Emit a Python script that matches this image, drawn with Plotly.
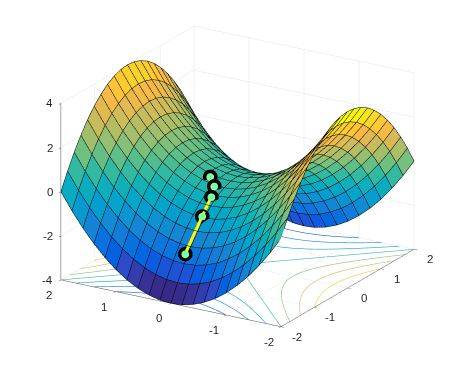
import plotly.graph_objects as go
import numpy as np

x_values = [-2.0,-1.8,-1.6,-1.4,-1.2,-1.0,-0.8,-0.6,-0.4,-0.2,0.0,0.2,0.4,0.6,0.8,1.0,1.2,1.4,1.6,1.8,2.0]
y_values = [-2.0,-1.8,-1.6,-1.4,-1.2,-1.0,-0.8,-0.6,-0.4,-0.2,0.0,0.2,0.4,0.6,0.8,1.0,1.2,1.4,1.6,1.8,2.0]
z_rows = [
 [0,.76,1.44,2.04,2.56,3,3.36,3.64,3.84,3.96,4,3.96,3.84,3.64,3.36,3,2.56,2.04,1.44,.76,0],
 [-.76,0,.68,1.28,1.8,2.24,2.6,2.88,3.08,3.2,3.24,3.2,3.08,2.88,2.6,2.24,1.8,1.28,.68,0,-.76],
 [-1.44,-.68,0,.6,1.12,1.56,1.92,2.2,2.4,2.52,2.56,2.52,2.4,2.2,1.92,1.56,1.12,.6,0,-.68,-1.44],
 [-2.04,-1.28,-.6,0,.52,.96,1.32,1.6,1.8,1.92,1.96,1.92,1.8,1.6,1.32,.96,.52,0,-.6,-1.28,-2.04],
 [-2.56,-1.8,-1.12,-.52,0,.44,.8,1.08,1.28,1.4,1.44,1.4,1.28,1.08,.8,.44,0,-.52,-1.12,-1.8,-2.56],
 [-3,-2.24,-1.56,-.96,-.44,0,.36,.64,.84,.96,1,.96,.84,.64,.36,0,-.44,-.96,-1.56,-2.24,-3],
 [-3.36,-2.6,-1.92,-1.32,-.8,-.36,0,.28,.48,.6,.64,.6,.48,.28,0,-.36,-.8,-1.32,-1.92,-2.6,-3.36],
 [-3.64,-2.88,-2.2,-1.6,-1.08,-.64,-.28,0,.2,.32,.36,.32,.2,0,-.28,-.64,-1.08,-1.6,-2.2,-2.88,-3.64],
 [-3.84,-3.08,-2.4,-1.8,-1.28,-.84,-.48,-.2,0,.12,.16,.12,0,-.2,-.48,-.84,-1.28,-1.8,-2.4,-3.08,-3.84],
 [-3.96,-3.2,-2.52,-1.92,-1.4,-.96,-.6,-.32,-.12,0,.04,0,-.12,-.32,-.6,-.96,-1.4,-1.92,-2.52,-3.2,-3.96],
 [-4,-3.24,-2.56,-1.96,-1.44,-1,-.64,-.36,-.16,-.04,0,-.04,-.16,-.36,-.64,-1,-1.44,-1.96,-2.56,-3.24,-4],
 [-3.96,-3.2,-2.52,-1.92,-1.4,-.96,-.6,-.32,-.12,0,.04,0,-.12,-.32,-.6,-.96,-1.4,-1.92,-2.52,-3.2,-3.96],
 [-3.84,-3.08,-2.4,-1.8,-1.28,-.84,-.48,-.2,0,.12,.16,.12,0,-.2,-.48,-.84,-1.28,-1.8,-2.4,-3.08,-3.84],
 [-3.64,-2.88,-2.2,-1.6,-1.08,-.64,-.28,0,.2,.32,.36,.32,.2,0,-.28,-.64,-1.08,-1.6,-2.2,-2.88,-3.64],
 [-3.36,-2.6,-1.92,-1.32,-.8,-.36,0,.28,.48,.6,.64,.6,.48,.28,0,-.36,-.8,-1.32,-1.92,-2.6,-3.36],
 [-3,-2.24,-1.56,-.96,-.44,0,.36,.64,.84,.96,1,.96,.84,.64,.36,0,-.44,-.96,-1.56,-2.24,-3],
 [-2.56,-1.8,-1.12,-.52,0,.44,.8,1.08,1.28,1.4,1.44,1.4,1.28,1.08,.8,.44,0,-.52,-1.12,-1.8,-2.56],
 [-2.04,-1.28,-.6,0,.52,.96,1.32,1.6,1.8,1.92,1.96,1.92,1.8,1.6,1.32,.96,.52,0,-.6,-1.28,-2.04],
 [-1.44,-.68,0,.6,1.12,1.56,1.92,2.2,2.4,2.52,2.56,2.52,2.4,2.2,1.92,1.56,1.12,.6,0,-.68,-1.44],
 [-.76,0,.68,1.28,1.8,2.24,2.6,2.88,3.08,3.2,3.24,3.2,3.08,2.88,2.6,2.24,1.8,1.28,.68,0,-.76],
 [0,.76,1.44,2.04,2.56,3,3.36,3.64,3.84,3.96,4,3.96,3.84,3.64,3.36,3,2.56,2.04,1.44,.76,0],
]

level_values = [3, 2, 1, 0]
level_a = [
 [0, .2, .4, .6, .8, 1.0],
 [0, .2, .4, .6, .8, 1.0, 1.2, 1.414],
 [0, .2, .4, .6, .8, 1.0, 1.2, 1.4, 1.6, 1.732],
 [0, 2.0],
]
level_b = [
 [1.732, 1.744, 1.778, 1.833, 1.908, 2.0],
 [1.414, 1.428, 1.470, 1.536, 1.625, 1.732, 1.855, 2.0],
 [1.0, 1.02, 1.077, 1.166, 1.281, 1.414, 1.562, 1.72, 1.887, 2.0],
 [0, 2.0],
]

path_x = [-1.49, -0.98, -0.64, -0.42, -0.26]
path_y = [0.05, 0.05, 0.09, 0.17, 0.34]
path_z = [-2.22, -0.96, -0.40, -0.15, 0.05]

x_ticks = [-2, -1, 0, 1, 2]
y_ticks = [-2, -1, 0, 1, 2]
z_ticks = [-4, -2, 0, 2, 4]
x_labels = ["-2", "-1", "0", "1", "2"]
y_labels = ["-2", "-1", "0", "1", "2"]
z_labels = ["-4", "-2", "0", "2", "4"]

parula = np.array([[.2081,.1663,.5292],[.2116,.1898,.5777],[.2123,.2138,.6270],[.2081,.2386,.6771],[.1959,.2645,.7279],[.1707,.2919,.7792],[.1253,.3242,.8303],[.0591,.3598,.8683],[.0117,.3875,.8820],[.0060,.4086,.8828],[.0165,.4266,.8786],[.0329,.4430,.8720],[.0498,.4586,.8641],[.0629,.4737,.8554],[.0723,.4887,.8467],[.0779,.5040,.8384],[.0793,.5200,.8312],[.0749,.5375,.8263],[.0641,.5570,.8240],[.0488,.5772,.8228],[.0343,.5966,.8199],[.0265,.6137,.8135],[.0239,.6287,.8038],[.0231,.6418,.7913],[.0228,.6535,.7768],[.0267,.6642,.7607],[.0384,.6743,.7436],[.0590,.6838,.7254],[.0843,.6928,.7062],[.1133,.7015,.6859],[.1453,.7098,.6646],[.1801,.7177,.6424],[.2178,.7250,.6193],[.2586,.7317,.5954],[.3022,.7376,.5712],[.3482,.7424,.5473],[.3953,.7459,.5244],[.4420,.7481,.5033],[.4871,.7491,.4840],[.5300,.7491,.4661],[.5709,.7485,.4494],[.6099,.7473,.4337],[.6473,.7456,.4188],[.6834,.7435,.4044],[.7184,.7411,.3905],[.7525,.7384,.3768],[.7858,.7356,.3633],[.8185,.7327,.3498],[.8507,.7299,.3360],[.8824,.7274,.3217],[.9139,.7258,.3063],[.9450,.7261,.2886],[.9739,.7314,.2666],[.9938,.7455,.2403],[.9990,.7653,.2164],[.9955,.7861,.1967],[.9880,.8066,.1794],[.9789,.8271,.1633],[.9697,.8481,.1475],[.9626,.8705,.1309],[.9589,.8949,.1132],[.9598,.9218,.0948],[.9661,.9514,.0755],[.9763,.9831,.0538]])

def pcolor(v):
    t = np.clip((v + 4) / 8, 0, 1) * 63
    rgb = [np.interp(t, np.arange(64), parula[:, c]) * 255 for c in range(3)]
    return "rgb(%d,%d,%d)" % tuple(int(round(c)) for c in rgb)

Z = np.array(z_rows, float)
nx, ny = len(x_values), len(y_values)
X, Y = np.meshgrid(x_values, y_values)
vid = lambda j, i: j * nx + i
I, J, K, FC = [], [], [], []
for j in range(ny - 1):
    for i in range(nx - 1):
        c = pcolor(Z[j, i])
        I += [vid(j, i), vid(j, i)]
        J += [vid(j, i + 1), vid(j + 1, i + 1)]
        K += [vid(j + 1, i + 1), vid(j + 1, i)]
        FC += [c, c]

fig = go.Figure()
fig.add_trace(go.Mesh3d(x=X.ravel(), y=Y.ravel(), z=Z.ravel(), i=I, j=J, k=K, facecolor=FC,
                        flatshading=True, hoverinfo="skip",
                        lighting=dict(ambient=1, diffuse=0, specular=0, roughness=1, fresnel=0)))
fig.add_trace(go.Surface(x=x_values, y=y_values, z=z_rows, hidesurface=True, showscale=False, hoverinfo="skip",
    contours=dict(
        x=dict(show=True, start=-2, end=2, size=0.2, color="#000000", width=1),
        y=dict(show=True, start=-2, end=2, size=0.2, color="#000000", width=1),
        z=dict(show=False))))

def add_curve(xs, ys, lv):
    fig.add_trace(go.Scatter3d(x=xs, y=ys, z=[-4] * len(xs), mode="lines", hoverinfo="skip",
                               line=dict(color=pcolor(lv), width=1.2), showlegend=False))
for lv, a, b in zip(level_values, level_a, level_b):
    a2 = [-v for v in a[::-1]] + a[1:]
    b2 = b[::-1] + b[1:]
    if lv == 0:
        add_curve(a2, [v for v in a2], 0)
        add_curve(a2, [-v for v in a2], 0)
    else:
        for s in (1, -1):
            add_curve(a2, [s * v for v in b2], lv)
            add_curve([s * v for v in b2], a2, -lv)

view_dir = dict(x=-0.802, y=-0.485, z=0.30)
aspect_xy = 1.453
aspect_z = 1.065
def lifted(t):
    return ([v + view_dir["x"] * t * 4 / aspect_xy for v in path_x],
            [v + view_dir["y"] * t * 4 / aspect_xy for v in path_y],
            [v + view_dir["z"] * t * 8 / aspect_z for v in path_z])

px, py, pz = lifted(0.03)
fig.add_trace(go.Scatter3d(x=px, y=py, z=pz, mode="markers", hoverinfo="skip", showlegend=False,
                           marker=dict(size=8.5, color="#000000", line=dict(width=0))))
px, py, pz = lifted(0.05)
fig.add_trace(go.Scatter3d(x=px, y=py, z=pz, mode="lines", hoverinfo="skip", showlegend=False,
                           line=dict(color="#ffff00", width=6)))
px, py, pz = lifted(0.07)
fig.add_trace(go.Scatter3d(x=px, y=py, z=pz, mode="markers", hoverinfo="skip", showlegend=False,
                           marker=dict(size=4.5, color="#7fff9f", line=dict(width=0))))

label_font = dict(family="Liberation Sans", size=11.5, color="#262626")
notes = []
for v, s in zip(z_ticks, z_labels):
    notes.append(dict(x=-2, y=2, z=v, text=s, showarrow=False, xanchor="right", yanchor="middle",
                      xshift=-6, yshift=0, font=label_font))
for v, s in zip(y_ticks, y_labels):
    notes.append(dict(x=-2, y=v, z=-4, text=s, showarrow=False, xanchor="center", yanchor="middle",
                      xshift=-12, yshift=-15, font=label_font))
for v, s in zip(x_ticks, x_labels):
    notes.append(dict(x=v, y=-2, z=-4, text=s, showarrow=False, xanchor="center", yanchor="middle",
                      xshift=16, yshift=-10, font=label_font))

axis = dict(showbackground=False, gridcolor="#e3e3e3", gridwidth=1, zeroline=False,
            showline=True, linecolor="#4d4d4d", linewidth=1, ticks="inside", ticklen=4, tickcolor="#4d4d4d",
            showticklabels=False, title=dict(text=""), showspikes=False, tickmode="array")
fig.update_layout(
    width=459, height=368, margin=dict(l=0, r=0, t=0, b=0), paper_bgcolor="white", showlegend=False,
    scene=dict(
        domain=dict(x=[0, 1], y=[14 / 368, 1]),
        aspectmode="manual", aspectratio=dict(x=aspect_xy, y=aspect_xy, z=aspect_z),
        camera=dict(eye=view_dir, center=dict(x=0, y=0, z=-0.052), up=dict(x=0, y=0, z=1),
                    projection=dict(type="orthographic")),
        xaxis=dict(axis, range=[-2, 2], tickvals=x_ticks),
        yaxis=dict(axis, range=[-2, 2], tickvals=y_ticks),
        zaxis=dict(axis, range=[-4, 4], tickvals=z_ticks),
        annotations=notes,
    ),
)
fig.write_html("out.html")
